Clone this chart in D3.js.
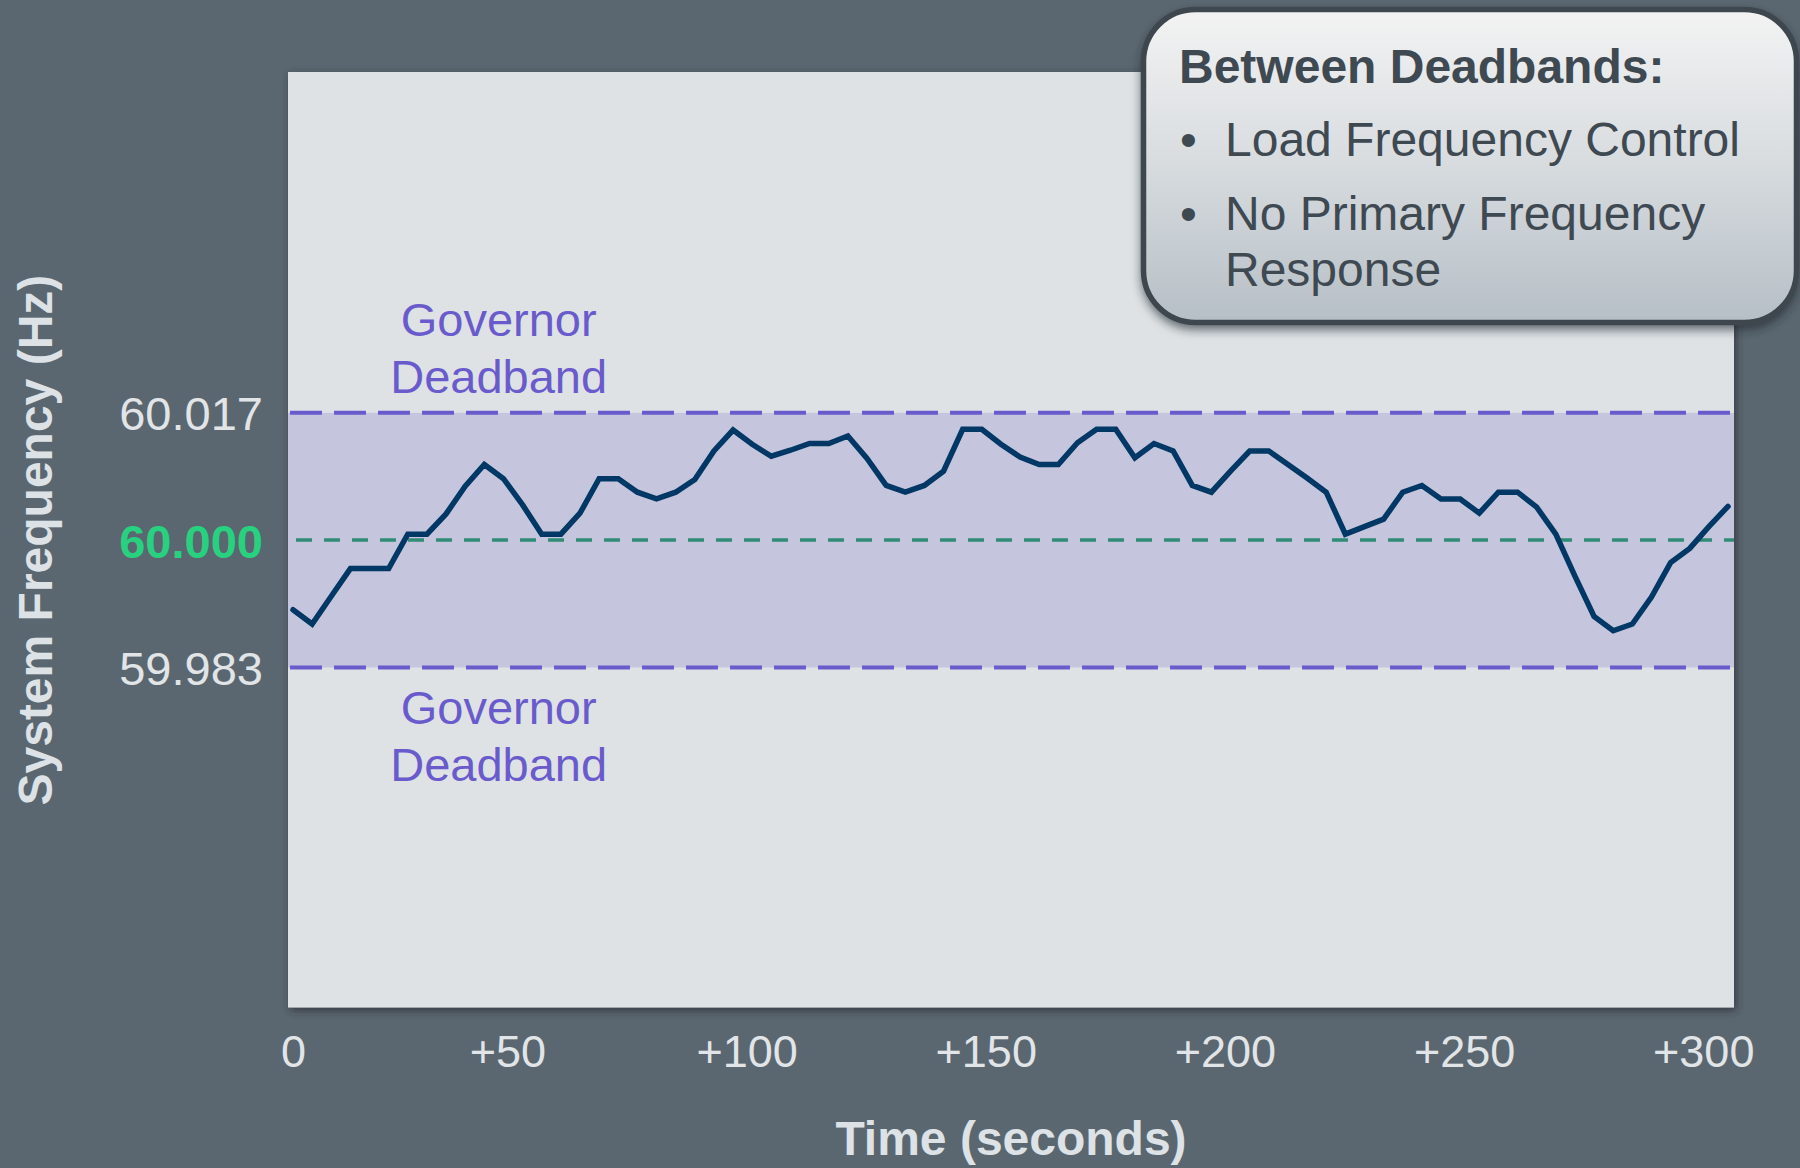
<!DOCTYPE html>
<html>
<head>
<meta charset="utf-8">
<script src="https://cdn.jsdelivr.net/npm/d3@7"></script>
<style>
  html, body { margin: 0; padding: 0; background: #5b6770; }
  svg { display: block; font-family: "Liberation Sans", Arial, sans-serif; }
</style>
</head>
<body>
<svg id="chart" width="1800" height="1168"></svg>
<script>
// Time stamps (seconds) — one sample every 4 s over a 5-minute window
const seconds = d3.range(0, 301, 4);

// Measured system frequency (Hz) at each time stamp
const frequency = [
  59.9907, 59.9888, 59.9925, 59.9962, 59.9962, 59.9962, 60.0008, 60.0008,
  60.0035, 60.0072, 60.0101, 60.0082, 60.0047, 60.0008, 60.0008, 60.0036,
  60.0082, 60.0082, 60.0064, 60.0055, 60.0064, 60.0081, 60.0119, 60.0147,
  60.0128, 60.0112, 60.0120, 60.0129, 60.0129, 60.0139, 60.0109, 60.0073,
  60.0064, 60.0073, 60.0092, 60.0148, 60.0148, 60.0128, 60.0111, 60.0101,
  60.0101, 60.0130, 60.0148, 60.0148, 60.0110, 60.0129, 60.0119, 60.0073,
  60.0064, 60.0092, 60.0119, 60.0119, 60.0101, 60.0083, 60.0064, 60.0008,
  60.0018, 60.0028, 60.0064, 60.0073, 60.0055, 60.0055, 60.0036, 60.0064,
  60.0064, 60.0044, 60.0008, 59.9952, 59.9898, 59.9879, 59.9888, 59.9924,
  59.9970, 59.9989, 60.0018, 60.0045
];

// Governor deadband limits and nominal frequency (Hz)
const nominal = 60.000;
const deadbandHigh = 60.017;
const deadbandLow = 59.983;
const yTickValues = [deadbandLow, nominal, deadbandHigh];

// Time axis ticks
const xTickValues = [0, 50, 100, 150, 200, 250, 300];

// Callout text
const calloutTitle = "Between Deadbands:";
const calloutBullets = [
  ["Load Frequency Control"],
  ["No Primary Frequency", "Response"]
];
const bandLabel = ["Governor", "Deadband"];

const svg = d3.select("#chart");
const W = 1800, H = 1168;
const plot = { left: 288, top: 72, right: 1734, bottom: 1007.5 };

// Filters and gradients
const defs = svg.append("defs");
const sh = defs.append("filter").attr("id", "plotShadow")
  .attr("x", "-5%").attr("y", "-5%").attr("width", "110%").attr("height", "110%");
sh.append("feDropShadow").attr("dx", 2).attr("dy", 3).attr("stdDeviation", 4)
  .attr("flood-color", "#252c33").attr("flood-opacity", 0.75);

const bsh = defs.append("filter").attr("id", "boxShadow")
  .attr("x", "-5%").attr("y", "-5%").attr("width", "110%").attr("height", "120%");
bsh.append("feDropShadow").attr("dx", 0).attr("dy", 5).attr("stdDeviation", 5)
  .attr("flood-color", "#20262c").attr("flood-opacity", 0.6);

const grad = defs.append("linearGradient").attr("id", "boxFill")
  .attr("x1", 0).attr("y1", 0).attr("x2", 0).attr("y2", 1);
grad.append("stop").attr("offset", "0%").attr("stop-color", "#f3f3f3");
grad.append("stop").attr("offset", "45%").attr("stop-color", "#dadee1");
grad.append("stop").attr("offset", "100%").attr("stop-color", "#b6bfc6");

// Scales
const x = d3.scaleLinear().domain([0, 300]).range([plot.left + 5, plot.right - 6]);
const y = d3.scaleLinear().domain([59.9376, 60.0625]).range([plot.bottom, plot.top]);

// Background
svg.append("rect").attr("width", W).attr("height", H).attr("fill", "#5b6770");

// Plot panel
svg.append("rect")
  .attr("x", plot.left).attr("y", plot.top)
  .attr("width", plot.right - plot.left).attr("height", plot.bottom - plot.top)
  .attr("fill", "#dee2e5")
  .attr("filter", "url(#plotShadow)");

// Deadband region
svg.append("rect")
  .attr("x", plot.left).attr("y", y(deadbandHigh))
  .attr("width", plot.right - plot.left)
  .attr("height", y(deadbandLow) - y(deadbandHigh))
  .attr("fill", "#c5c5dd");

// Deadband limit lines
svg.selectAll("line.deadband")
  .data([deadbandHigh, deadbandLow])
  .join("line")
  .attr("class", "deadband")
  .attr("x1", plot.left + 2).attr("x2", plot.right - 4)
  .attr("y1", d => y(d)).attr("y2", d => y(d))
  .attr("stroke", "#6a5bcd").attr("stroke-width", 4)
  .attr("stroke-dasharray", "32 12");

// Nominal frequency line
svg.append("line")
  .attr("x1", plot.left).attr("x2", plot.right)
  .attr("y1", y(nominal)).attr("y2", y(nominal))
  .attr("stroke", "#2f8c76").attr("stroke-width", 3.5)
  .attr("stroke-dasharray", "16 12")
  .attr("stroke-dashoffset", -8);

// Deadband labels
const labelX = x(43);
const upper = svg.append("text")
  .attr("text-anchor", "middle").attr("fill", "#6a5bcd")
  .attr("font-size", 47);
upper.append("tspan").attr("x", labelX).attr("y", y(deadbandHigh) - 77).text(bandLabel[0]);
upper.append("tspan").attr("x", labelX).attr("y", y(deadbandHigh) - 20).text(bandLabel[1]);

const lower = svg.append("text")
  .attr("text-anchor", "middle").attr("fill", "#6a5bcd")
  .attr("font-size", 47);
lower.append("tspan").attr("x", labelX).attr("y", y(deadbandLow) + 57).text(bandLabel[0]);
lower.append("tspan").attr("x", labelX).attr("y", y(deadbandLow) + 114).text(bandLabel[1]);

// Frequency trace
const series = seconds.map((t, i) => ({ t, f: frequency[i] }));
svg.append("path")
  .datum(series)
  .attr("fill", "none")
  .attr("stroke", "#003865")
  .attr("stroke-width", 5.5)
  .attr("stroke-linejoin", "miter")
  .attr("stroke-linecap", "round")
  .attr("d", d3.line().x(d => x(d.t)).y(d => y(d.f)));

// Y axis
const yAxis = svg.append("g")
  .attr("transform", `translate(${plot.left},0)`)
  .call(d3.axisLeft(y).tickValues(yTickValues).tickFormat(d3.format(".3f"))
    .tickSize(0).tickPadding(25));
yAxis.select(".domain").remove();
yAxis.selectAll("text")
  .attr("font-family", "'Liberation Sans', Arial, sans-serif")
  .attr("font-size", 47)
  .attr("dy", "0.36em")
  .attr("fill", d => d === nominal ? "#27d17f" : "#e1e5e8")
  .attr("font-weight", d => d === nominal ? "bold" : "normal");

// X axis
const xAxis = svg.append("g")
  .attr("transform", `translate(0,${plot.bottom})`)
  .call(d3.axisBottom(x).tickValues(xTickValues)
    .tickFormat(d => d === 0 ? "0" : "+" + d)
    .tickSize(0).tickPadding(28));
xAxis.select(".domain").remove();
xAxis.selectAll("text")
  .attr("font-family", "'Liberation Sans', Arial, sans-serif")
  .attr("font-size", 45)
  .attr("fill", "#e1e5e8")
  .attr("dx", d => d === 0 ? 0 : "-0.55em");

// Axis titles
svg.append("text")
  .attr("x", (plot.left + plot.right) / 2).attr("y", 1155)
  .attr("text-anchor", "middle")
  .attr("font-size", 48).attr("font-weight", "bold")
  .attr("fill", "#dde2e6")
  .text("Time (seconds)");

svg.append("text")
  .attr("transform", `translate(52,${y(nominal)}) rotate(-90)`)
  .attr("text-anchor", "middle")
  .attr("font-size", 48).attr("font-weight", "bold")
  .attr("fill", "#dde2e6")
  .text("System Frequency (Hz)");

// Callout box
const box = svg.append("g");
box.append("rect")
  .attr("x", 1143.5).attr("y", 9.5).attr("width", 653).attr("height", 313)
  .attr("rx", 52).attr("ry", 52)
  .attr("fill", "url(#boxFill)")
  .attr("stroke", "#3e464e").attr("stroke-width", 5.5)
  .attr("filter", "url(#boxShadow)");

box.append("text")
  .attr("x", 1179).attr("y", 83)
  .attr("font-size", 48).attr("font-weight", "bold")
  .attr("fill", "#3f4952")
  .text(calloutTitle);

let lineY = 156;
calloutBullets.forEach(lines => {
  box.append("text")
    .attr("x", 1180).attr("y", lineY)
    .attr("font-size", 48).attr("fill", "#3f4952")
    .text("•");
  lines.forEach((ln, j) => {
    box.append("text")
      .attr("x", 1225).attr("y", lineY + j * 56)
      .attr("font-size", 48).attr("fill", "#3f4952")
      .text(ln);
  });
  lineY += 74;
});
</script>
</body>
</html>
